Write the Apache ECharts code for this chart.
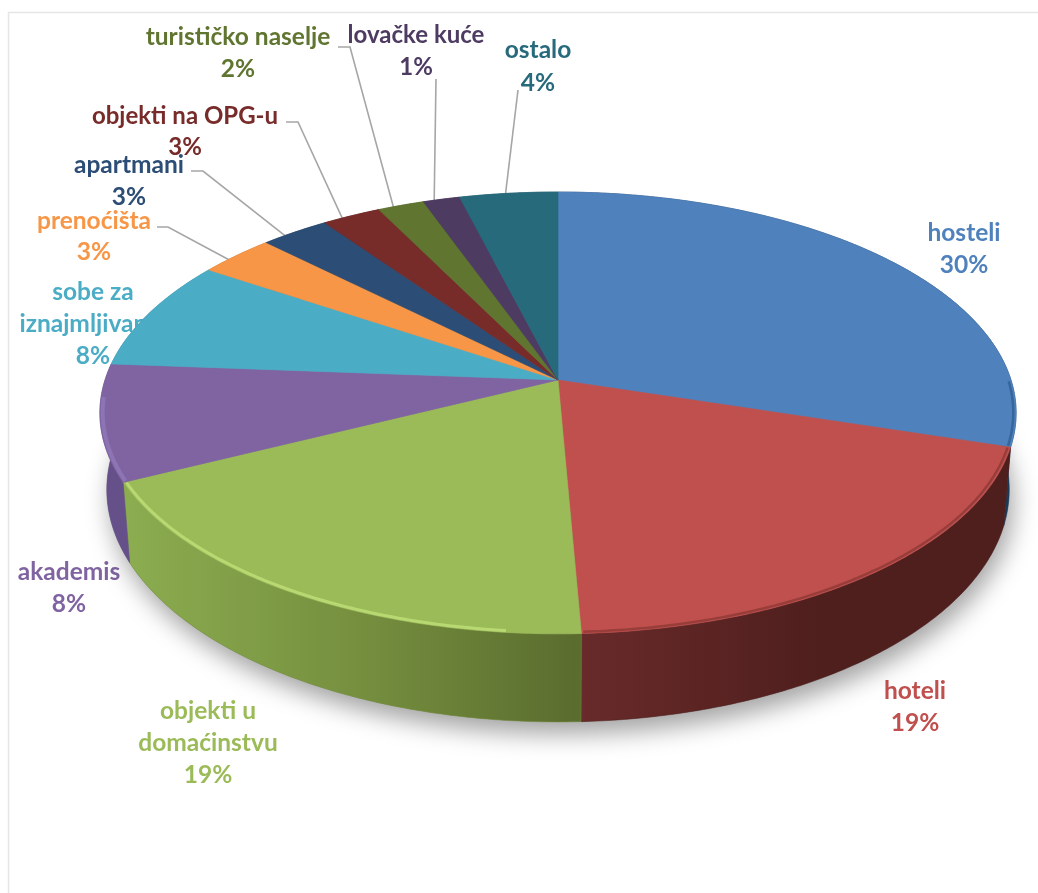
<!DOCTYPE html>
<html><head><meta charset="utf-8">
<style>html,body{margin:0;padding:0;background:#fff}#c{width:1038px;height:893px}#c canvas{filter:blur(0.7px)}</style>
<script src="https://cdn.jsdelivr.net/npm/echarts@6/dist/echarts.min.js"></script>
</head><body><div id="c"></div>
<script>
const categories = ['hosteli','hoteli','objekti u domaćinstvu','akademis','sobe za iznajmljivanje','prenoćišta','apartmani','objekti na OPG-u','turističko naselje','lovačke kuće','ostalo'];
const values = [29.8, 19.5, 18.4, 8.5, 8.1, 3.1, 2.8, 2.4, 1.9, 1.5, 4.0];
const percentLabels = ['30%','19%','19%','8%','8%','3%','3%','3%','2%','1%','4%'];

// ---- styling and layout (not data) ----
const topColors = ['#4f81bd','#c0504d','#9bbb59','#8064a2','#4bacc6','#f79646','#2c4d75','#772c2a','#5f7530','#4d3b62','#276a7c'];
const textColors = topColors;
const wallStops = [['#2a5580','#1a3a5a','#1a3a5a'],['#682a2a','#4f1f1d','#4f1f1d'],['#8cad50','#76903f','#5a6c2e'],['#66508a','#66508a','#66508a'],['#3a8a9e','#3a8a9e','#3a8a9e'],['#c07030','#c07030','#c07030'],['#223c5c','#223c5c','#223c5c'],['#5c2220','#5c2220','#5c2220'],['#4a5b25','#4a5b25','#4a5b25'],['#3c2e4c','#3c2e4c','#3c2e4c'],['#1e5260','#1e5260','#1e5260']];
const rimColors = ['#2f5f92','#8f3836','#bfe078','#8f78ba',null,null,null,null,null,null,null];
const rimWidths = [2.5,2.5,3,4,0,0,0,0,0,0,0];
const rimFrom = [0.84,0,0.12,0,0,0,0,0,0,0,0];
const rimTo = [1,1,1,0.72,1,1,1,1,1,1,1];
const labelText = [['hosteli'],['hoteli'],['objekti u','domaćinstvu'],['akademis'],['sobe za','iznajmljivanje'],['prenoćišta'],['apartmani'],['objekti na OPG-u'],['turističko naselje'],['lovačke kuće'],['ostalo']];
const labelCx = [964,915,208,69,93,94,129,185,238,416,538];
const labelCy = [233,691,711,572,292,221,165,116,37,35,50];
const linePitch = [32,32,32,32,32,31,32,31,32,32,33];
const labelSize = [24.5,24.5,24.5,24.5,24.5,24.5,24.5,24,24.5,24,24.5];
const leaderStart = {5:[[157,227],[168,227]],6:[[191,171],[203,171]],7:[[286,122],[298,122]],8:[[338,47],[350,47]],9:[[436,79]],10:[[518,90]]};
const leaderFrac = {5:0.36,6:0.33,7:0.33,8:0.33,9:0.3,10:0.47};

const PIE = {cx:558, cy:380, A:453, B:216, k:0.149, depth:75, shrink:0.985};
const total = values.reduce((a,b)=>a+b,0);
const cum = [0]; values.forEach((v,i)=>cum.push(cum[i]+v));
const angle = p => p/total*2*Math.PI;
function topPt(t, r){ r=r==null?1:r; const X=Math.sin(t)*r,Y=Math.cos(t)*r,w=1+PIE.k*Y; return [PIE.cx+PIE.A*X/w, PIE.cy-PIE.B*Y/w]; }
function bottomPt(t){ const X=Math.sin(t),Y=Math.cos(t),w=1+PIE.k*Y; return [PIE.cx+PIE.A*PIE.shrink*X/w, PIE.cy-PIE.B*Y/w+PIE.depth/w]; }
function arc(fn,a,b,r){ const n=Math.max(6,Math.ceil((b-a)/0.01)),o=[]; for(let i=0;i<=n;i++) o.push(fn(a+(b-a)*i/n,r)); return o; }
const sliceData = values.map((v,i)=>[i,v]);

function renderLabels(params){
  const i=params.dataIndex, kids=[];
  const lines=labelText[i].concat([percentLabels[i]]);
  lines.forEach((s,j)=>kids.push({type:'text',style:{text:s,x:labelCx[i],y:labelCy[i]+j*linePitch[i],fill:textColors[i],fontFamily:'Lato',fontWeight:'bold',fontSize:labelSize[i],align:'center',verticalAlign:'middle'}}));
  if(leaderStart[i]){
    const end=angle(cum[i]+(cum[i+1]-cum[i])*leaderFrac[i]);
    kids.push({type:'polyline',shape:{points:leaderStart[i].concat([topPt(end)])},style:{stroke:'#a6a6a6',lineWidth:1.6,fill:null}});
  }
  return {type:'group',children:kids};
}
function renderWalls(params){
  const i=params.dataIndex, a=angle(cum[i]), b=angle(cum[i+1]);
  const pts=arc(topPt,a,b).concat(arc(bottomPt,a,b).reverse());
  const s=wallStops[i];
  const grad = i===2 ? [{offset:0,color:s[0]},{offset:0.5,color:s[1]},{offset:1,color:s[2]}]
                     : [{offset:0,color:s[0]},{offset:0.55,color:s[1]},{offset:1,color:s[2]}];
  return {type:'polygon',shape:{points:pts},style:{fill:new echarts.graphic.LinearGradient(0,0,1,0,grad),stroke:s[1],lineWidth:0.5}};
}
function renderTops(params){
  const i=params.dataIndex, a=angle(cum[i]), b=angle(cum[i+1]);
  const pts=[[PIE.cx,PIE.cy]].concat(arc(topPt,a,b));
  const kids=[{type:'polygon',shape:{points:pts},style:{fill:topColors[i],stroke:topColors[i],lineWidth:0.6}}];
  if(rimColors[i]){
    const ra=a+(b-a)*rimFrom[i]+0.004, rb=a+(b-a)*rimTo[i]-0.004;
    kids.push({type:'polyline',shape:{points:arc(topPt,ra,rb,0.994)},style:{stroke:rimColors[i],lineWidth:rimWidths[i],fill:null,opacity:0.8}});
  }
  return {type:'group',children:kids};
}
function renderShadow(){
  const pts=arc(bottomPt,0,2*Math.PI);
  return {type:'polygon',shape:{points:pts},style:{fill:'#888',shadowColor:'rgba(0,0,0,0.36)',shadowBlur:24,shadowOffsetX:4,shadowOffsetY:12}};
}
const chart=echarts.init(document.getElementById('c'),null,{renderer:'canvas'});
chart.setOption({
  animation:false,
  backgroundColor:'#ffffff',
  graphic:[{type:'polyline',z:0,silent:true,shape:{points:[[8.5,893],[8.5,12.5],[1038,12.5]]},style:{stroke:'#e6e6e6',lineWidth:1.5,fill:null}}],
  series:[
    {type:'custom',coordinateSystem:'none',z:1,silent:true,data:sliceData,renderItem:renderLabels},
    {type:'custom',coordinateSystem:'none',z:2,silent:true,data:[[0]],renderItem:renderShadow},
    {type:'custom',coordinateSystem:'none',z:3,silent:true,data:sliceData,renderItem:renderWalls},
    {type:'custom',coordinateSystem:'none',z:4,silent:true,data:sliceData,renderItem:renderTops}
  ]
});
</script></body></html>
